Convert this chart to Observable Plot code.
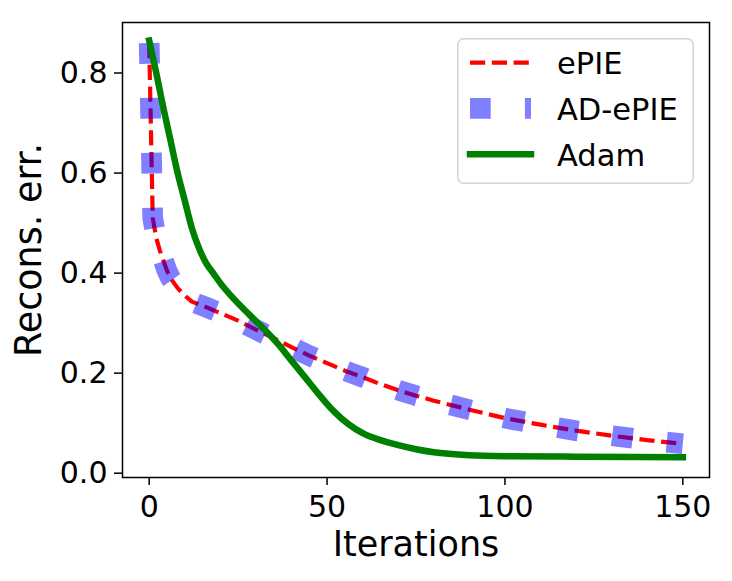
<!DOCTYPE html>
<html>
<head>
<meta charset="utf-8">
<script src="https://cdn.jsdelivr.net/npm/d3@7"></script>
<script src="https://cdn.jsdelivr.net/npm/@observablehq/plot@0.6"></script>
<style>
  html, body { margin: 0; padding: 0; background: #fff; }
  #chart { position: relative; width: 732px; height: 581px; font-family: "DejaVu Sans", sans-serif; }
  #chart > svg { display: block; }
  #legend { position: absolute; left: 457px; top: 38px; }
</style>
</head>
<body>
<div id="chart"></div>
<script>
// Reconstruction error per iteration for the three solvers
const epieIter = [0, 1, 2, 3, 4, 5, 6, 8, 10, 12, 16, 20, 25, 30, 35, 40, 45, 50, 55, 60, 65, 70, 75, 80, 90, 100, 110, 120, 130, 140, 150];
const epieErr  = [0.86, 0.51, 0.47, 0.445, 0.425, 0.405, 0.39, 0.37, 0.355, 0.343, 0.332, 0.32, 0.305, 0.287, 0.27, 0.252, 0.235, 0.22, 0.205, 0.192, 0.178, 0.166, 0.155, 0.145, 0.127, 0.11, 0.097, 0.085, 0.075, 0.066, 0.059];

const adepieIter = [0, 1, 2, 3, 4, 5, 6, 8, 10, 12, 16, 20, 25, 30, 35, 40, 45, 50, 55, 60, 65, 70, 75, 80, 90, 100, 110, 120, 130, 140, 150];
const adepieErr  = [0.86, 0.51, 0.47, 0.445, 0.425, 0.405, 0.39, 0.37, 0.355, 0.343, 0.332, 0.32, 0.305, 0.287, 0.27, 0.252, 0.235, 0.22, 0.205, 0.192, 0.178, 0.166, 0.155, 0.145, 0.127, 0.11, 0.097, 0.085, 0.075, 0.066, 0.059];

const adamIter = [0, 2, 4, 6, 8, 10, 12, 14, 16, 18, 20, 24, 28, 32, 36, 40, 44, 48, 52, 56, 60, 65, 70, 75, 80, 90, 100, 120, 150];
const adamErr  = [0.865, 0.80, 0.73, 0.665, 0.60, 0.545, 0.49, 0.45, 0.42, 0.40, 0.38, 0.347, 0.318, 0.29, 0.26, 0.225, 0.19, 0.155, 0.123, 0.098, 0.08, 0.066, 0.056, 0.048, 0.042, 0.036, 0.034, 0.033, 0.032];

const xTicks = [0, 50, 100, 150];
const yTicks = [0.0, 0.2, 0.4, 0.6, 0.8];

const seriesNames = ["ePIE", "AD-ePIE", "Adam"];
const seriesColors = ["#ff0000", "#0000ff", "#008000"];

const rows = (xs, ys) => xs.map((x, i) => ({iter: x, err: ys[i]}));
const epie = rows(epieIter, epieErr);
const adepie = rows(adepieIter, adepieErr);
const adam = rows(adamIter, adamErr);

// line styles shared by the plot and the legend
const styles = [
  {stroke: seriesColors[0], strokeWidth: 4.2, strokeDasharray: "15.2,6.6", strokeLinecap: "butt", strokeOpacity: 1},
  {stroke: seriesColors[1], strokeWidth: 20.7, strokeDasharray: "20.7,34.2", strokeLinecap: "butt", strokeOpacity: 0.5},
  {stroke: seriesColors[2], strokeWidth: 6.5, strokeDasharray: null, strokeLinecap: "square", strokeOpacity: 1}
];
const lineStyle = (s) => Object.fromEntries(Object.entries(s).filter(([, v]) => v != null));

const plot = Plot.plot({
  width: 732,
  height: 581,
  marginLeft: 122,
  marginRight: 23,
  marginTop: 22,
  marginBottom: 104,
  style: {fontFamily: "DejaVu Sans, sans-serif", background: "white", color: "black"},
  x: {domain: [-7.5, 157.5]},
  y: {domain: [-0.0086, 0.901]},
  marks: [
    Plot.line(epie, {x: "iter", y: "err", strokeLinejoin: "round", ...lineStyle(styles[0])}),
    Plot.line(adepie, {x: "iter", y: "err", strokeLinejoin: "round", ...lineStyle(styles[1])}),
    Plot.line(adam, {x: "iter", y: "err", curve: "monotone-x", strokeLinejoin: "round", ...lineStyle(styles[2])}),
    Plot.frame({stroke: "black", strokeWidth: 1.5}),
    Plot.axisX({ticks: xTicks, tickSize: 8, tickPadding: 10, fontSize: 30, strokeWidth: 1.5, tickFormat: d => String(d), label: null}),
    Plot.axisY({ticks: yTicks, tickSize: 8, tickPadding: 7, fontSize: 30, strokeWidth: 1.5, tickFormat: d3.format(".1f"), label: null}),
    Plot.text(["Iterations"], {text: d => d, frameAnchor: "bottom", dy: 54, lineAnchor: "top", fontSize: 35, fill: "black"}),
    Plot.text(["Recons. err."], {text: d => d, frameAnchor: "left", dx: -107, rotate: -90, lineAnchor: "top", textAnchor: "middle", fontSize: 36.5, fill: "black"})
  ]
});

const chart = document.getElementById("chart");
chart.appendChild(plot);

// legend box in the upper right of the axes
const lw = 237, lh = 146;
const legend = d3.select(chart).append("svg")
  .attr("id", "legend")
  .attr("width", lw)
  .attr("height", lh)
  .style("font-family", "DejaVu Sans, sans-serif");

legend.append("rect")
  .attr("x", 0.75).attr("y", 0.75)
  .attr("width", lw - 1.5).attr("height", lh - 1.5)
  .attr("rx", 6).attr("ry", 6)
  .attr("fill", "white").attr("fill-opacity", 0.8)
  .attr("stroke", "#d4d4d4").attr("stroke-width", 1.5);

const rowY = [24.7, 70.3, 116.3];
seriesNames.forEach((name, i) => {
  const s = styles[i];
  const line = legend.append("line")
    .attr("x1", 13).attr("x2", 74)
    .attr("y1", rowY[i]).attr("y2", rowY[i])
    .attr("stroke", s.stroke)
    .attr("stroke-width", s.strokeWidth)
    .attr("stroke-opacity", s.strokeOpacity)
    .attr("stroke-linecap", s.strokeLinecap);
  if (s.strokeDasharray) line.attr("stroke-dasharray", s.strokeDasharray);
  legend.append("text")
    .attr("x", 100)
    .attr("y", rowY[i] + 11.6)
    .attr("font-size", 30.5)
    .attr("fill", "black")
    .text(name);
});
</script>
</body>
</html>
